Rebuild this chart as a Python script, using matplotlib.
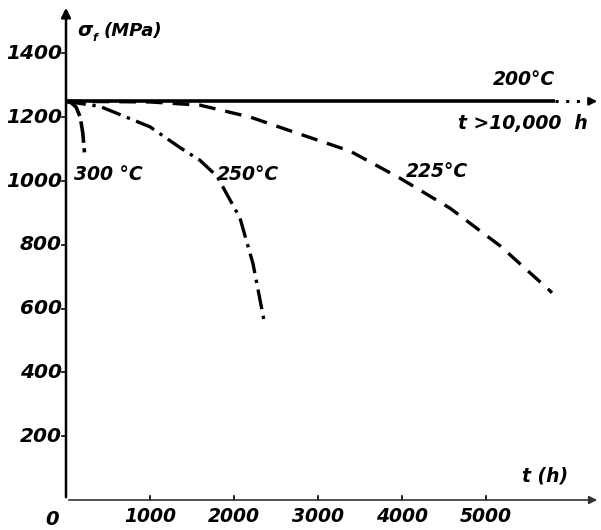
import numpy as np
import matplotlib.pyplot as plt

# --- datos ---
t_200 = [0, 5820]
s_200 = [1250, 1250]
t_200_dot = [5820, 6250]

t_300 = [0, 60, 120, 170, 200, 220]
s_300 = [1250, 1246, 1232, 1200, 1150, 1090]

t_250 = [0, 405, 1000, 1357, 1595, 1798, 2071, 2226, 2369]
s_250 = [1250, 1234, 1170, 1105, 1065, 1015, 884, 741, 547]

t_225 = [0, 1000, 1595, 2200, 2786, 3381, 3976, 4571, 5167, 5786]
s_225 = [1250, 1248, 1238, 1200, 1147, 1094, 1009, 915, 797, 650]

x_ticks = [0, 1000, 2000, 3000, 4000, 5000]
y_ticks = [200, 400, 600, 800, 1000, 1200, 1400]

XMAX = 6357
YMAX = 1552

W, H = 601, 530
fig = plt.figure(figsize=(W / 100, H / 100), dpi=100)
ax = fig.add_axes([66 / W, 30 / H, (600 - 66) / W, (500 - 5) / H])
ax.set_xlim(0, XMAX)
ax.set_ylim(0, YMAX)
ax.axis('off')

font = dict(fontweight='bold', fontstyle='italic', family='DejaVu Sans', color='black')

# ejes con flecha
ax.annotate('', xy=(0, YMAX), xytext=(0, 0),
            arrowprops=dict(arrowstyle='-|>', color='black', lw=1.8, mutation_scale=14),
            annotation_clip=False)
ax.annotate('', xy=(XMAX, 0), xytext=(0, 0),
            arrowprops=dict(arrowstyle='-|>', color='#333333', lw=1.2, mutation_scale=12),
            annotation_clip=False)

# marcas y etiquetas
for yv in y_ticks:
    ax.plot([-50, 0], [yv, yv], color='black', lw=1.2, clip_on=False)
    ax.text(-50, yv, str(yv), ha='right', va='center', fontsize=14.5, **font)
ax.text(-80, -30, '0', ha='right', va='top', fontsize=14, **font)
for xv in x_ticks[1:]:
    ax.plot([xv, xv], [0, 12], color='black', lw=1.2, clip_on=False)
    ax.text(xv, -22, str(xv), ha='center', va='top', fontsize=13.5, **font)

# curvas
ax.plot(t_200, s_200, color='black', lw=2.6, solid_capstyle='butt')
ax.plot(t_200_dot, [1250, 1250], color='black', lw=2.2, linestyle=(0, (1, 2.5)))
ax.annotate('', xy=(XMAX, 1250), xytext=(6200, 1250),
            arrowprops=dict(arrowstyle='-|>', color='black', lw=1.5, mutation_scale=12),
            annotation_clip=False)
ax.plot(t_300, s_300, color='black', lw=2.6, linestyle=(0, (6, 1.5)))
ax.plot(t_250, s_250, color='black', lw=2.4, linestyle=(0, (6, 2, 1, 2)))
ax.plot(t_225, s_225, color='black', lw=2.4, linestyle=(0, (5, 3)))

# textos
ax.text(140, 1455, 'σ', fontsize=14, **font)
ax.text(320, 1440, 'f', fontsize=8, **font)
ax.text(450, 1455, '(MPa)', fontsize=13, **font)
ax.text(5450, 1290, '200°C', ha='center', va='bottom', fontsize=13.5, **font)
ax.text(5440, 1180, 't >10,000  h', ha='center', va='center', fontsize=13.5, **font)
ax.text(90, 1020, '300 °C', ha='left', va='center', fontsize=13.5, **font)
ax.text(1800, 1020, '250°C', ha='left', va='center', fontsize=13.5, **font)
ax.text(4050, 1030, '225°C', ha='left', va='center', fontsize=13.5, **font)
ax.text(5700, 45, 't (h)', ha='center', va='bottom', fontsize=13.5, **font)

plt.savefig('out.png', dpi=100)
